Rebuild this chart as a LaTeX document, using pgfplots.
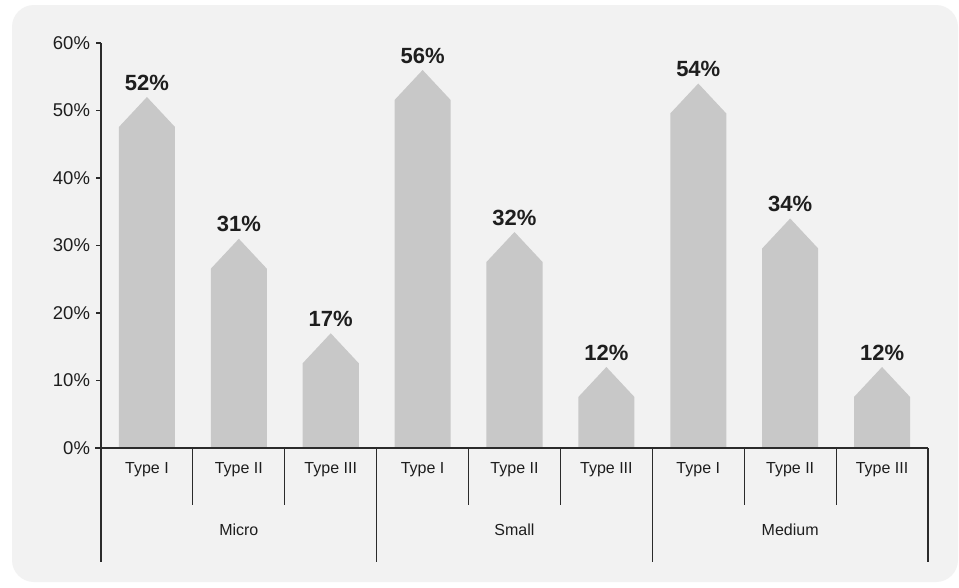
\documentclass[border=0pt]{standalone}
\usepackage{fontspec}
\setmainfont{Liberation Sans}
\usepackage{pgfplots}
\usepackage{pgfplotstable}
\pgfplotsset{compat=1.18}
\definecolor{bgcol}{HTML}{F2F2F2}
\definecolor{barcol}{HTML}{C8C8C8}
\definecolor{linecol}{HTML}{2B2B2B}
\definecolor{txtcol}{HTML}{1E1E1E}

\pgfplotstableread{
x v
0 52
1 31
2 17
3 56
4 32
5 12
6 54
7 34
8 12
}\datatable

\begin{document}
\begin{tikzpicture}
\useasboundingbox (0pt,0pt) rectangle (959pt,-587pt);
\fill[white] (0pt,0pt) rectangle (959pt,-587pt);
\fill[bgcol, rounded corners=22pt] (12pt,-5pt) rectangle (958pt,-582pt);
\begin{axis}[
  at={(101pt,-448pt)}, anchor=south west,
  width=827pt, height=405pt, scale only axis,
  xmin=-0.5, xmax=8.5, ymin=0, ymax=60,
  clip=false,
  axis x line=none, axis y line*=left,
  axis line style={linecol, line width=1.2pt, -},
  ytick={0,10,...,60},
  yticklabels={0\%,10\%,20\%,30\%,40\%,50\%,60\%},
  ytick style={linecol, line width=1.2pt},
  tick align=outside, major tick length=5pt,
  yticklabel style={font=\fontsize{18.5}{22}\selectfont, text=txtcol, xshift=-2.5pt},
]
\pgfplotsforeachungrouped \i in {0,...,8}{%
  \pgfplotstablegetelem{\i}{v}\of\datatable
  \let\v\pgfplotsretval
  \pgfmathsetmacro\xl{\i-0.305}%
  \pgfmathsetmacro\xr{\i+0.305}%
  \pgfmathsetmacro\ys{\v-4.44}%
  \edef\doplot{\noexpand\addplot[fill=barcol, draw=none] coordinates {(\xl,0) (\xl,\ys) (\i,\v) (\xr,\ys) (\xr,0)} -- cycle;}%
  \doplot
  \edef\dolabel{\noexpand\node[anchor=base, text=txtcol, font=\noexpand\bfseries\noexpand\fontsize{22}{26}\noexpand\selectfont] at ([yshift=7pt]axis cs:\i,\v) {\v\noexpand\%};}%
  \dolabel
}
\draw[linecol, line width=1.2pt] ([xshift=-6pt]axis cs:-0.5,0) -- (axis cs:8.5,0);
\pgfplotsinvokeforeach{0.5,1.5,3.5,4.5,6.5,7.5}{
  \draw[linecol, line width=1.2pt] (axis cs:#1,0) -- ([yshift=-57pt]axis cs:#1,0);
}
\pgfplotsinvokeforeach{-0.5,2.5,5.5,8.5}{
  \draw[linecol, line width=1.2pt] (axis cs:#1,0) -- ([yshift=-114pt]axis cs:#1,0);
}
\pgfplotsinvokeforeach{0,3,6}{
  \node[anchor=base, text=txtcol, font=\fontsize{16}{19}\selectfont] at ([yshift=-25pt]axis cs:#1,0) {Type I};
}
\pgfplotsinvokeforeach{1,4,7}{
  \node[anchor=base, text=txtcol, font=\fontsize{16}{19}\selectfont] at ([yshift=-25pt]axis cs:#1,0) {Type II};
}
\pgfplotsinvokeforeach{2,5,8}{
  \node[anchor=base, text=txtcol, font=\fontsize{16}{19}\selectfont] at ([yshift=-25pt]axis cs:#1,0) {Type III};
}
\node[anchor=base, text=txtcol, font=\fontsize{16}{19}\selectfont] at ([yshift=-87pt]axis cs:1,0) {Micro};
\node[anchor=base, text=txtcol, font=\fontsize{16}{19}\selectfont] at ([yshift=-87pt]axis cs:4,0) {Small};
\node[anchor=base, text=txtcol, font=\fontsize{16}{19}\selectfont] at ([yshift=-87pt]axis cs:7,0) {Medium};
\end{axis}
\end{tikzpicture}
\end{document}
